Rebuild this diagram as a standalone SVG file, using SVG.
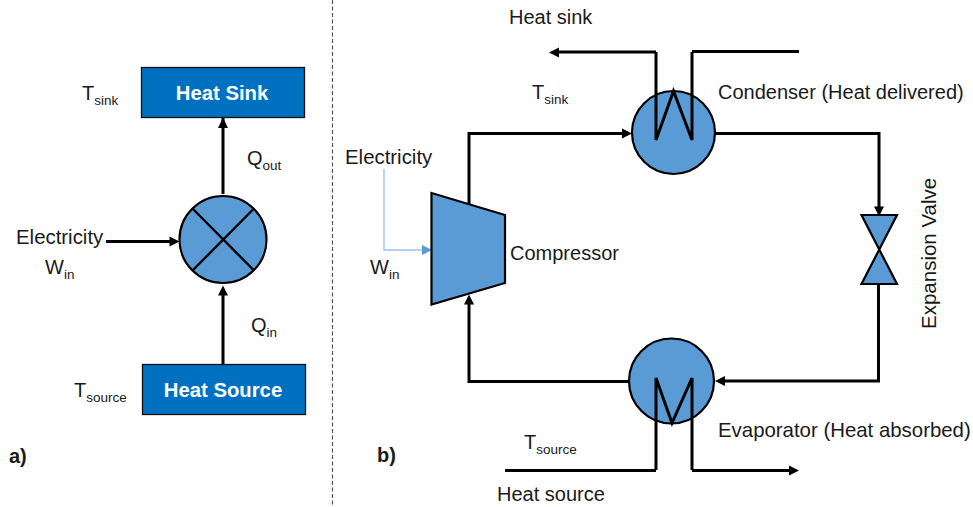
<svg xmlns="http://www.w3.org/2000/svg" width="973" height="507" viewBox="0 0 973 507">
<style>
text{font-family:"Liberation Sans",Arial,sans-serif;font-size:20px;fill:#1a1a1a}
.sub{font-size:13.500px}
.b{font-weight:bold}
.w{font-size:20.400px}
.box{fill:#0070c0;stroke:#111;stroke-width:1.3}
.boxt{font-weight:bold;font-size:20.300px;fill:#fff;text-anchor:middle}
.blue{fill:#5b9bd5;stroke:#000;stroke-width:2.2}
.l{fill:none;stroke:#000;stroke-width:3}
.t{fill:none;stroke:#000;stroke-width:2.4}
.h{fill:#000}
</style>
<rect width="973" height="507" fill="#fff"/>
<g id="connectors">
<line x1="332.500" y1="0" x2="332.500" y2="507" stroke="#555" stroke-width="1.2" stroke-dasharray="4 2.500"/>
<path class="l" d="M223 194V78"/><path class="h" d="M223 117.500l-5 10.500h10z"/>
<path class="l" d="M106 241.500H171"/><path class="h" d="M179.500 241.500l-10-5v10z"/>
<path class="l" d="M223 364V293"/><path class="h" d="M223 285.500l-5 10h10z"/>
<path class="l" d="M469 204V133.500H624"/><path class="h" d="M632 133.500l-10-5v10z"/>
<path class="l" d="M714 133.500H879V208"/><path class="h" d="M879 216.500l-5-10h10z"/>
<path class="l" d="M878.500 284V381H722"/><path class="h" d="M715 381l10-5v10z"/>
<path class="l" d="M629 381.500H469V303"/><path class="h" d="M469 294.500l-5 10h10z"/>
<path class="l" d="M656 52H558"/><path class="h" d="M549 52.500l10-5v10z"/>
<path class="l" d="M799 51.500H692"/>
<path class="l" d="M505 470.500H656"/>
<path class="l" d="M692 470.500H791"/><path class="h" d="M799 470.500l-10-5v10z"/>
<path d="M384 169V250H424" fill="none" stroke="#9dc3e6" stroke-width="1.400"/><path d="M432 250l-10-5v10z" fill="#5b9bd5"/>
</g>
<g id="heat-sink"><rect class="box" x="141.500" y="67.500" width="163" height="50"/><text class="boxt" x="222" y="100">Heat Sink</text></g>
<g id="heat-source"><rect class="box" x="142.500" y="364.500" width="163" height="50"/><text class="boxt" x="223" y="397">Heat Source</text></g>
<g id="compressor-a"><circle class="blue" cx="223" cy="239.500" r="43.500"/><path class="t" d="M192.500 208.500L254 270.500M254 208.500L192.500 270.500"/></g>
<g id="compressor"><path class="blue" d="M431.500 193L505 215V283L431.500 304.500z"/></g>
<g id="condenser"><circle class="blue" cx="673.500" cy="132.500" r="41.500"/><path class="l" d="M692 52V140L673.500 91L656 140V52"/></g>
<g id="evaporator"><circle class="blue" cx="671.500" cy="381" r="42.500"/><path class="l" d="M656 470V378L672 423L692 378V470"/></g>
<g id="expansion-valve"><path class="blue" d="M861.500 215H897L861.500 284H897z"/></g>
<g id="labels">
<text x="82" y="100">T<tspan class="sub" dy="5">sink</tspan></text>
<text x="247" y="165">Q<tspan class="sub" dy="5">out</tspan></text>
<text class="w" x="16" y="244">Electricity</text>
<text x="45" y="274">W<tspan class="sub" dy="5">in</tspan></text>
<text x="251" y="332">Q<tspan class="sub" dy="5">in</tspan></text>
<text x="74" y="397">T<tspan class="sub" dy="5">source</tspan></text>
<text class="b" x="9" y="463">a)</text>
<text class="b" x="377" y="462">b)</text>
<text x="509" y="24">Heat sink</text>
<text x="532" y="99">T<tspan class="sub" dy="5">sink</tspan></text>
<text x="718" y="99">Condenser (Heat delivered)</text>
<text class="w" x="345" y="164">Electricity</text>
<text x="370" y="274">W<tspan class="sub" dy="5">in</tspan></text>
<text x="510" y="260">Compressor</text>
<text class="w" transform="translate(936,329) rotate(-90)" x="0" y="0" style="font-size:20.500px">Expansion Valve</text>
<text class="w" x="718" y="437">Evaporator (Heat absorbed)</text>
<text x="524" y="449">T<tspan class="sub" dy="5">source</tspan></text>
<text x="497" y="501">Heat source</text>
</g>
</svg>
